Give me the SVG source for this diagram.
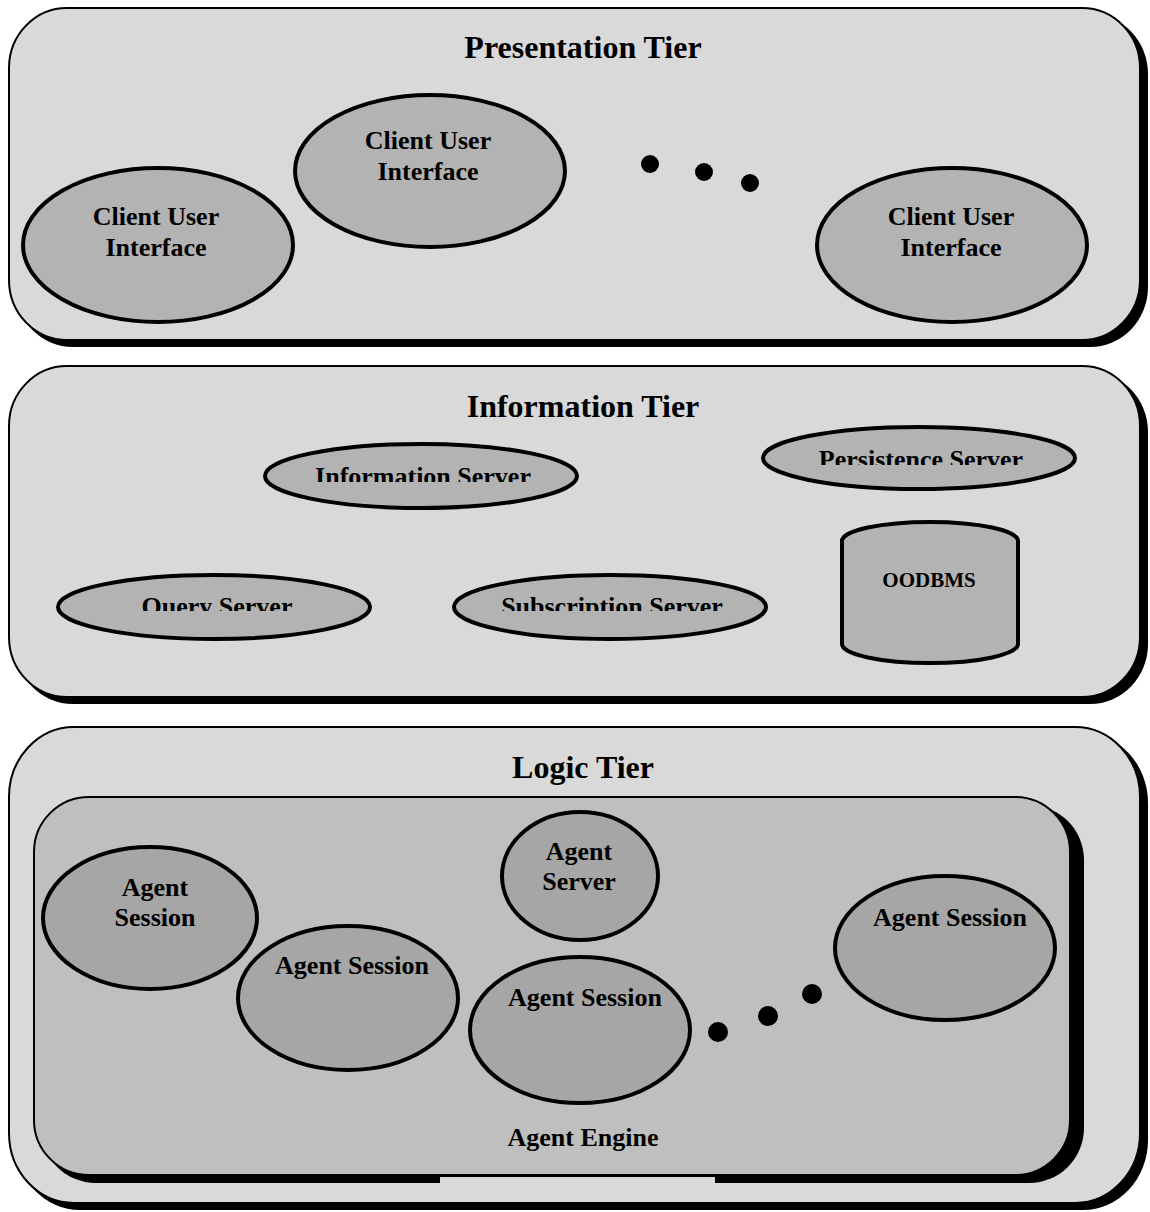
<svg xmlns="http://www.w3.org/2000/svg" width="1150" height="1212" viewBox="0 0 1150 1212">
<defs>
<style>
.tier{fill:#d9d9d9;stroke:#000;stroke-width:2}
.shadow{fill:#000}
.engine{fill:#bfbfbf;stroke:#000;stroke-width:2}
.el{fill:#b3b3b3;stroke:#000;stroke-width:4}
.ag{fill:#a6a6a6;stroke:#000;stroke-width:4}
.t{font-family:"Liberation Serif","Times New Roman",serif;font-weight:bold;fill:#000;text-anchor:middle}
.title{font-size:32px}
.lbl{font-size:26px}
.small{font-size:21px}
.dot{fill:#000}
</style>
<clipPath id="cInfo"><rect x="250" y="440" width="340" height="42"/></clipPath>
<clipPath id="cPers"><rect x="750" y="420" width="340" height="45"/></clipPath>
<clipPath id="cQuery"><rect x="40" y="570" width="340" height="41"/></clipPath>
<clipPath id="cSub"><rect x="440" y="570" width="340" height="41"/></clipPath>
</defs>

<g id="presentation-tier">
<rect class="shadow" x="15" y="14" width="1133" height="333" rx="58" ry="60"/>
<rect class="tier" x="9" y="8" width="1131" height="332" rx="58" ry="60"/>
<text class="t title" x="583" y="58">Presentation Tier</text>
</g>
<g id="cui-1">
<ellipse class="el" cx="158" cy="245" rx="135" ry="77"/>
<text class="t lbl" x="156" y="225">Client User</text>
<text class="t lbl" x="156" y="256">Interface</text>
</g>
<g id="cui-2">
<ellipse class="el" cx="430" cy="171" rx="135" ry="76"/>
<text class="t lbl" x="428" y="149">Client User</text>
<text class="t lbl" x="428" y="180">Interface</text>
</g>
<g id="cui-3">
<ellipse class="el" cx="952" cy="245" rx="135" ry="77"/>
<text class="t lbl" x="951" y="225">Client User</text>
<text class="t lbl" x="951" y="256">Interface</text>
</g>
<g id="dots-presentation">
<circle class="dot" cx="650" cy="164" r="9"/>
<circle class="dot" cx="704" cy="172" r="9"/>
<circle class="dot" cx="750" cy="183" r="9"/>
</g>

<g id="information-tier">
<rect class="shadow" x="15" y="372" width="1133" height="332" rx="58" ry="60"/>
<rect class="tier" x="9" y="366" width="1131" height="331" rx="58" ry="60"/>
<text class="t title" x="583" y="417">Information Tier</text>
</g>
<g id="information-server">
<ellipse class="el" cx="421" cy="476" rx="156" ry="32"/>
<text class="t lbl" x="423" y="485" clip-path="url(#cInfo)">Information Server</text>
</g>
<g id="persistence-server">
<ellipse class="el" cx="919" cy="458" rx="156" ry="31"/>
<text class="t lbl" x="921" y="468" clip-path="url(#cPers)">Persistence Server</text>
</g>
<g id="query-server">
<ellipse class="el" cx="214" cy="607" rx="156" ry="32"/>
<text class="t lbl" x="217" y="615" clip-path="url(#cQuery)">Query Server</text>
</g>
<g id="subscription-server">
<ellipse class="el" cx="610" cy="607" rx="156" ry="32"/>
<text class="t lbl" x="612" y="615" clip-path="url(#cSub)">Subscription Server</text>
</g>
<g id="oodbms">
<path class="el" d="M842,541 A88,19 0 0 1 1018,541 L1018,644 A88,19 0 0 1 842,644 Z"/>
<text class="t small" x="929" y="587">OODBMS</text>
</g>

<g id="logic-tier">
<rect class="shadow" x="15" y="733" width="1133" height="477" rx="65" ry="70"/>
<rect class="tier" x="9" y="727" width="1131" height="476" rx="65" ry="70"/>
<text class="t title" x="583" y="778">Logic Tier</text>
</g>
<g id="agent-engine">
<rect class="shadow" x="41" y="805" width="1043" height="378" rx="55" ry="55"/>
<rect x="440" y="1177" width="275" height="8" fill="#d9d9d9"/>
<rect class="engine" x="34" y="797" width="1036" height="378" rx="55" ry="55"/>
<text class="t lbl" x="583" y="1146">Agent Engine</text>
</g>
<g id="agent-session-1">
<ellipse class="ag" cx="150" cy="918" rx="107" ry="71"/>
<text class="t lbl" x="155" y="896">Agent</text>
<text class="t lbl" x="155" y="926">Session</text>
</g>
<g id="agent-session-2">
<ellipse class="ag" cx="348" cy="998" rx="110" ry="72"/>
<text class="t lbl" x="352" y="974">Agent Session</text>
</g>
<g id="agent-server">
<ellipse class="ag" cx="580" cy="876" rx="78" ry="64"/>
<text class="t lbl" x="579" y="860">Agent</text>
<text class="t lbl" x="579" y="890">Server</text>
</g>
<g id="agent-session-3">
<ellipse class="ag" cx="580" cy="1030" rx="110" ry="73"/>
<text class="t lbl" x="585" y="1006">Agent Session</text>
</g>
<g id="agent-session-4">
<ellipse class="ag" cx="945" cy="948" rx="110" ry="72"/>
<text class="t lbl" x="950" y="926">Agent Session</text>
</g>
<g id="dots-logic">
<circle class="dot" cx="718" cy="1032" r="10"/>
<circle class="dot" cx="768" cy="1016" r="10"/>
<circle class="dot" cx="812" cy="994" r="10"/>
</g>
<g id="connectors"></g>
</svg>
